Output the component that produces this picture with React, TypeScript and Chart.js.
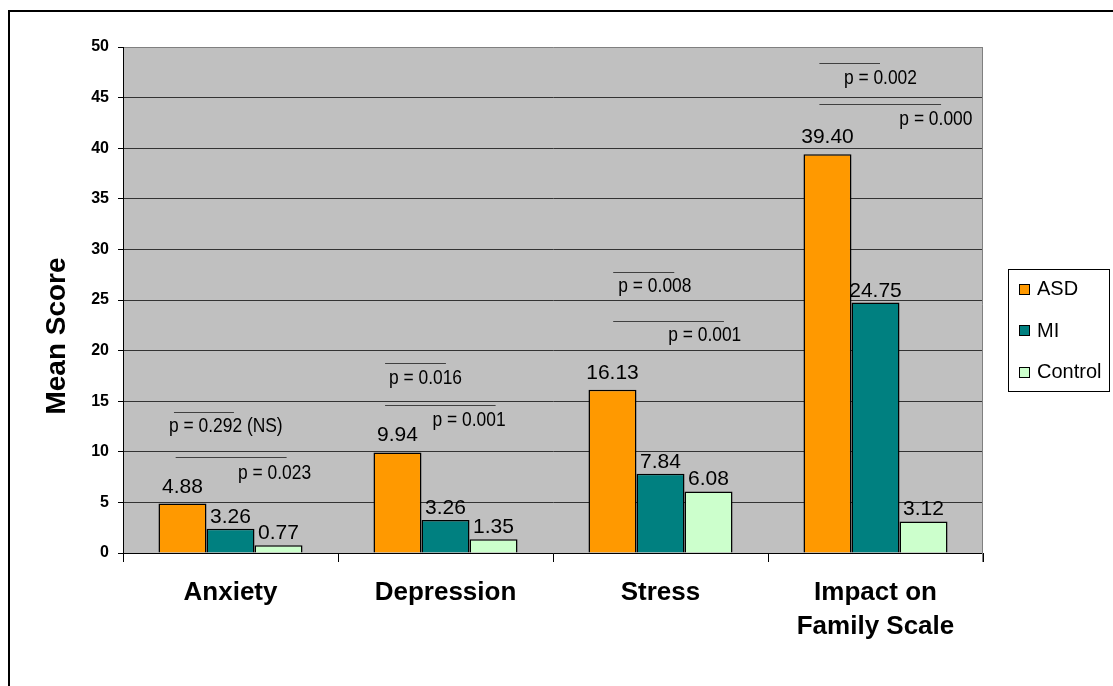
import { useEffect, useRef } from "react";
import { Chart, registerables } from "chart.js";

Chart.register(...registerables);

// ---- data ----
const categories: (string | string[])[] = ["Anxiety", "Depression", "Stress", ["Impact on", "Family Scale"]];
const seriesNames = ["ASD", "MI", "Control"];
const asdValues = [4.88, 9.94, 16.13, 39.4];
const miValues = [2.4, 3.26, 7.84, 24.75];
const controlValues = [0.77, 1.35, 6.08, 3.12];
const asdLabels = ["4.88", "9.94", "16.13", "39.40"];
const miLabels = ["3.26", "3.26", "7.84", "24.75"];
const controlLabels = ["0.77", "1.35", "6.08", "3.12"];
const yMin = 0;
const yMax = 50;
const yStep = 5;
const yTitle = "Mean Score";

// significance annotations: category index, line y (data units), line start/end and text left
// as fractions of a category width relative to the category centre, text middle y (data units)
const annotations = [
  { cat: 0, y: 13.96, x0: -0.263, x1: 0.016, text: "p = 0.292 (NS)", tx: -0.286, ty: 12.52 },
  { cat: 0, y: 9.46, x0: -0.255, x1: 0.261, text: "p = 0.023", tx: 0.035, ty: 7.9 },
  { cat: 1, y: 18.75, x0: -0.281, x1: 0.002, text: "p = 0.016", tx: -0.263, ty: 17.2 },
  { cat: 1, y: 14.65, x0: -0.281, x1: 0.233, text: "p = 0.001", tx: -0.06, ty: 13.1 },
  { cat: 2, y: 27.74, x0: -0.22, x1: 0.064, text: "p = 0.008", tx: -0.196, ty: 26.3 },
  { cat: 2, y: 22.95, x0: -0.22, x1: 0.295, text: "p = 0.001", tx: 0.036, ty: 21.46 },
  { cat: 3, y: 48.4, x0: -0.261, x1: 0.021, text: "p = 0.002", tx: -0.147, ty: 46.86 },
  { cat: 3, y: 44.4, x0: -0.261, x1: 0.305, text: "p = 0.000", tx: 0.111, ty: 42.84 },
];

// ---- styles ----
const SANS = "'Liberation Sans', Arial, Helvetica, sans-serif";
const COLORS = ["#FF9900", "#008080", "#CCFFCC"];
const LABEL_GAPS = [11, 6, 6];

export default function App() {
  const ref = useRef<HTMLCanvasElement | null>(null);

  useEffect(() => {
    const canvas = ref.current;
    if (!canvas) return;
    const labelSets = [asdLabels, miLabels, controlLabels];

    const decor = {
      id: "decor",
      beforeDraw(chart: any) {
        const { ctx, chartArea: a, width, height } = chart;
        ctx.save();
        ctx.fillStyle = "#ffffff";
        ctx.fillRect(0, 0, width, height);
        // outer frame (left and top visible)
        ctx.fillStyle = "#000000";
        ctx.fillRect(8, 10, width - 8, 2);
        ctx.fillRect(8, 10, 2, height - 10);
        // plot background
        ctx.fillStyle = "#C0C0C0";
        ctx.fillRect(a.left, a.top, a.right - a.left, a.bottom - a.top);
        ctx.restore();
      },
      afterDraw(chart: any) {
        const { ctx, chartArea: a } = chart;
        const xs = chart.scales.x;
        const ys = chart.scales.y;
        ctx.save();
        // right plot border
        ctx.strokeStyle = "#808080";
        ctx.lineWidth = 1;
        ctx.beginPath();
        ctx.moveTo(a.right - 0.5, a.top);
        ctx.lineTo(a.right - 0.5, a.bottom + 9);
        ctx.stroke();

        // value labels
        ctx.fillStyle = "#000";
        ctx.font = `21px ${SANS}`;
        ctx.textAlign = "center";
        ctx.textBaseline = "alphabetic";
        chart.data.datasets.forEach((_ds: any, di: number) => {
          const meta = chart.getDatasetMeta(di);
          meta.data.forEach((bar: any, i: number) => {
            ctx.fillText(labelSets[di][i], bar.x, bar.y - LABEL_GAPS[di]);
          });
        });

        // annotations
        const catW = (a.right - a.left) / categories.length;
        ctx.strokeStyle = "#404040";
        ctx.lineWidth = 1;
        ctx.font = `20px ${SANS}`;
        ctx.textAlign = "left";
        ctx.textBaseline = "middle";
        annotations.forEach((an) => {
          const cx = xs.getPixelForValue(an.cat);
          const ly = Math.round(ys.getPixelForValue(an.y)) + 0.5;
          ctx.beginPath();
          ctx.moveTo(cx + an.x0 * catW, ly);
          ctx.lineTo(cx + an.x1 * catW, ly);
          ctx.stroke();
          ctx.save();
          ctx.translate(cx + an.tx * catW, ys.getPixelForValue(an.ty));
          ctx.scale(0.87, 1);
          ctx.fillText(an.text, 0, 0);
          ctx.restore();
        });

        // legend
        ctx.strokeStyle = "#000";
        ctx.lineWidth = 1;
        ctx.strokeRect(1008.5, 269.5, 101, 122);
        ctx.font = `20px ${SANS}`;
        ctx.textAlign = "left";
        ctx.textBaseline = "middle";
        const rows = [289.5, 331, 372.5];
        seriesNames.forEach((name, i) => {
          const cy = rows[i];
          ctx.fillStyle = COLORS[i];
          ctx.fillRect(1019.5, Math.round(cy - 5) - 0.5, 10, 10);
          ctx.strokeRect(1019.5, Math.round(cy - 5) - 0.5, 10, 10);
          ctx.fillStyle = "#000";
          ctx.fillText(name, 1037, cy);
        });

        // y axis title
        ctx.save();
        ctx.translate(57.5, 336);
        ctx.rotate(-Math.PI / 2);
        ctx.font = `bold 28px ${SANS}`;
        ctx.textAlign = "center";
        ctx.textBaseline = "middle";
        ctx.fillStyle = "#000";
        ctx.fillText(yTitle, 0, 0);
        ctx.restore();

        ctx.restore();
      },
    };

    const chart = new Chart(canvas, {
      type: "bar",
      data: {
        labels: categories as any,
        datasets: [
          { label: seriesNames[0], data: asdValues, backgroundColor: COLORS[0], borderColor: "#000", borderWidth: 1.5 },
          { label: seriesNames[1], data: miValues, backgroundColor: COLORS[1], borderColor: "#000", borderWidth: 1.5 },
          { label: seriesNames[2], data: controlValues, backgroundColor: COLORS[2], borderColor: "#000", borderWidth: 1.5 },
        ],
      },
      options: {
        responsive: false,
        animation: false,
        layout: { padding: { top: 47, right: 130, left: 0, bottom: 0 } },
        datasets: { bar: { categoryPercentage: 0.67, barPercentage: 1 } },
        plugins: { legend: { display: false }, tooltip: { enabled: false } },
        scales: {
          x: {
            grid: {
              display: true,
              drawOnChartArea: false,
              drawTicks: true,
              tickLength: 9,
              offset: true,
              color: (c: any) => (c.index === categories.length ? "#808080" : "#000"),
            },
            border: { display: true, color: "#000", width: 1 },
            ticks: {
              color: "#000",
              font: { family: SANS, size: 26, weight: "bold", lineHeight: 34 / 26 },
              padding: 14,
              maxRotation: 0,
              autoSkip: false,
            },
            afterFit: (s: any) => {
              s.height = 133;
            },
          },
          y: {
            min: yMin,
            max: yMax,
            ticks: {
              stepSize: yStep,
              color: "#000",
              font: { family: SANS, size: 16, weight: "bold" },
              padding: 9,
            },
            grid: {
              color: (c: any) => (c.tick && c.tick.value === yMax ? "#808080" : "#333"),
              tickColor: "#000",
              tickLength: 5,
              drawTicks: true,
            },
            border: { display: true, color: "#000", width: 1 },
            afterFit: (s: any) => {
              s.width = 123;
            },
          },
        },
      } as any,
      plugins: [decor],
    });
    return () => chart.destroy();
  }, []);

  return (
    <canvas
      ref={ref}
      width={1113}
      height={686}
      style={{ position: "fixed", left: 0, top: 0, width: 1113, height: 686, display: "block" }}
    />
  );
}
